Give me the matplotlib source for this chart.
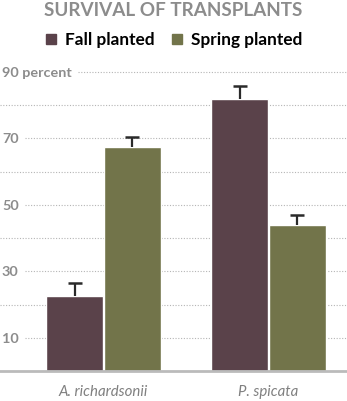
import matplotlib.pyplot as plt
import numpy as np

# survival of transplants by species and planting season
species = ["A. richardsonii", "P. spicata"]
seasons = ["Fall planted", "Spring planted"]
fall_vals = [22.5, 82]
fall_err = [4, 3.8]
spring_vals = [67.5, 44]
spring_err = [3, 3]
y_ticks = [10, 20, 30, 40, 50, 60, 70, 80, 90]
y_labels = {10: "10", 30: "30", 50: "50", 70: "70", 90: "90 percent"}

fall_color = "#5a424a"
spring_color = "#72744a"
gray = "#8c8c8c"
font = "Lato"

fig = plt.figure(figsize=(3.47, 4.02), dpi=100)
ax = fig.add_axes([0, 30 / 402, 1, 312.3 / 402])
ax.set_xlim(-0.627, 1.476)
ax.set_ylim(0, 94)
ax.axis("off")

x = np.arange(len(species))
width = 0.345
offset = 0.175

# dotted gridlines, shortened where a tick label sits
for t in y_ticks:
    if t == 90:
        start = 78 / 347
    elif t in y_labels:
        start = 25 / 347
    else:
        start = 0
    ax.axhline(t, xmin=start, xmax=1, color="#b5b5b5", lw=0.8,
               ls=(0, (1, 1.5)), zorder=1)
    if t in y_labels:
        ax.text(2 / 347, t, y_labels[t], transform=ax.get_yaxis_transform(),
                ha="left", va="center", color=gray, fontsize=10.4,
                fontweight="bold", family=font)

ax.bar(x - offset, fall_vals, width, color=fall_color, edgecolor="white",
       lw=1, zorder=2)
ax.bar(x + offset, spring_vals, width, color=spring_color, edgecolor="white",
       lw=1, zorder=2)

# upper-only error bars drawn as a "T"
for xs, vals, errs in [(x - offset, fall_vals, fall_err),
                       (x + offset, spring_vals, spring_err)]:
    tops = np.array(vals) + np.array(errs)
    ax.vlines(xs, vals, tops, color="#2a2a2a", lw=1.6, zorder=3)
    ax.plot(xs, tops, ls="none", marker="_", ms=10, mew=1.8,
            color="#2a2a2a", zorder=3)

# baseline
ax.axhline(0, color="#bbbbbb", lw=2, zorder=4, clip_on=False)

for xi, name in zip(x, species):
    ax.text(xi, -4, name, ha="center", va="top", color="#808080",
            fontsize=10.8, style="italic", family=font)

# title and legend
fig.text(0.5, 1 - 11 / 402, "SURVIVAL OF TRANSPLANTS", ha="center",
         va="center", color=gray, fontsize=13.6, fontweight="bold",
         family=font)

legend_y = 1 - 40 / 402
for sx, label, color in [(46, seasons[0], fall_color),
                         (172, seasons[1], spring_color)]:
    fig.patches.append(plt.Rectangle((sx / 347, legend_y - 5 / 402),
                                     10 / 347, 10 / 402, color=color,
                                     transform=fig.transFigure, figure=fig))
    fig.text((sx + 19) / 347, legend_y, label, ha="left", va="center",
             color="black", fontsize=12.4, fontweight="bold", family=font)

fig.savefig("out.png", dpi=100)
